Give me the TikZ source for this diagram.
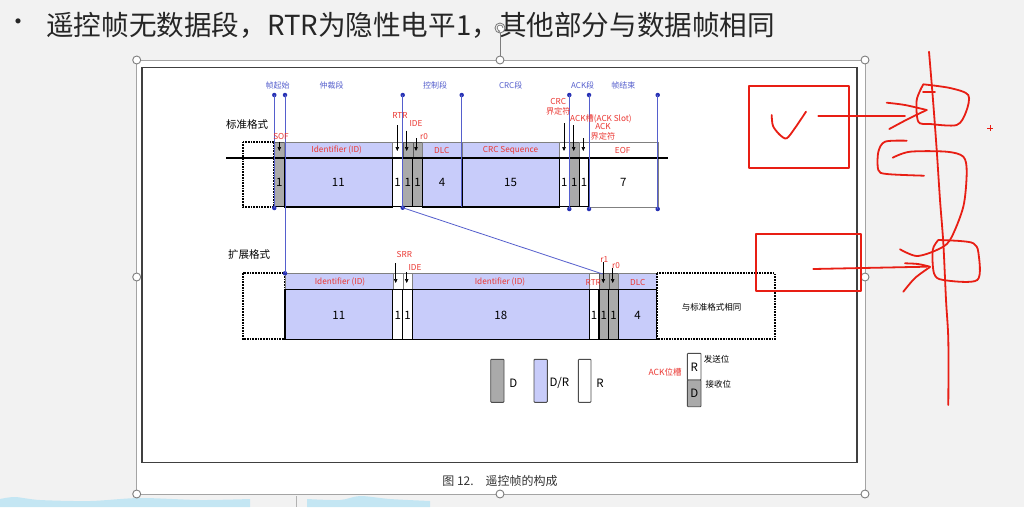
\documentclass[tikz,border=0pt]{standalone}
\usepackage{fontspec}
\setmainfont{Noto Sans CJK SC}
\usetikzlibrary{arrows.meta}

\definecolor{idblue}{RGB}{200,204,250}
\definecolor{bitgrey}{RGB}{170,170,170}
\definecolor{segblue}{RGB}{85,95,205}
\definecolor{dotblue}{RGB}{40,50,180}
\definecolor{lblred}{RGB}{235,55,50}
\definecolor{inkred}{RGB}{232,30,20}
\definecolor{slidegrey}{RGB}{242,242,242}
\definecolor{handlegrey}{RGB}{125,125,125}
\definecolor{blobblue}{RGB}{196,230,243}

\begin{document}
\begin{tikzpicture}[x=1pt,y=-1pt,
  greyStrip/.style={fill=bitgrey, draw=gray!70!black, line width=0.4pt},
  blueStrip/.style={fill=idblue, draw=gray, line width=0.4pt},
  whiteStrip/.style={fill=white, draw=gray, line width=0.4pt},
  greyBody/.style={fill=bitgrey, draw=black, line width=1.2pt},
  blueBody/.style={fill=idblue, draw=black, line width=1.6pt},
  whiteBody/.style={fill=white, draw=black, line width=1.2pt},
  voidBox/.style={draw=black, line width=1.7pt, densely dotted, fill=white},
  num/.style={font=\fontsize{11.5}{12}\selectfont, inner sep=0pt},
  fieldLbl/.style={text=lblred, font=\fontsize{8.2}{10}\selectfont, inner sep=0pt},
  segLbl/.style={text=segblue, font=\fontsize{8}{8.5}\selectfont, inner sep=0pt},
  rowLbl/.style={font=\fontsize{10.5}{11}\selectfont, inner sep=0pt},
  segLine/.style={draw=segblue, line width=0.8pt},
  segDot/.style={fill=dotblue, circle, inner sep=0pt, minimum size=4.5pt},
  bitArrow/.style={-{Triangle[length=4pt,width=3.5pt]}, line width=0.6pt},
  keyBox/.style={draw=black!70, line width=0.9pt, rounded corners=0.8pt},
  handle/.style={circle, draw=handlegrey, fill=white, line width=0.9pt, minimum size=8pt, inner sep=0pt},
  ink/.style={draw=inkred, line width=1.8pt, line cap=round, line join=round},
]
\useasboundingbox (0,0) rectangle (1024,507);
\fill[slidegrey] (0,0) rectangle (1024,507);
\fill[white] (136.7,60) rectangle (865,494);
% bottom of the slide
\fill[blobblue] plot[smooth] coordinates {(0,499) (15,497) (40,500) (90,501) (140,498) (200,500) (250,499)} -- (250,507) -- (0,507) -- cycle;
\fill[blobblue] plot[smooth] coordinates {(307,499) (340,500) (360,496) (390,499) (430,501)} -- (430,507) -- (307,507) -- cycle;
\draw[gray!60] (296,496) -- (296,507);

% title line
\node[font=\fontsize{24}{26}\selectfont, text=black!85, inner sep=0pt] (bullet) at (18,25) {•};
\node[anchor=west, font=\fontsize{27.6}{29}\selectfont, text=black!85, inner sep=0pt] (title) at (46,25) {遥控帧无数据段，RTR为隐性电平1，其他部分与数据帧相同};

% picture frame and handles
\draw[handlegrey!70, line width=0.8pt] (136.7,60) rectangle (865,494);
\draw[black!75, line width=1.5pt] (142,67.3) rectangle (857,462.5);
\foreach \px/\py/\n in {136.7/60/tl, 500/60/tm, 865/60/tr, 136.7/277/ml, 865/277/mr, 136.7/494/bl, 500/494/bm, 865/494/br}
  \node[handle] (h\n) at (\px,\py) {};
\node[handle, minimum size=10pt] (rot) at (500,28) {};
\draw[handlegrey, line width=0.8pt, -{Stealth[length=2.5pt]}] (503,28) arc[start angle=0, end angle=280, radius=3pt];
\draw[handlegrey, line width=0.8pt] (rot) -- (htm);
\node[font=\fontsize{12}{12}\selectfont, text=black!80] (caption) at (500,481) {图 12.\quad 遥控帧的构成};

% segment headings
\node[segLbl] (g1) at (277.7,85) {帧起始};
\node[segLbl] (g2) at (331.7,85) {仲裁段};
\node[segLbl] (g3) at (435,85) {控制段};
\node[segLbl] (g4) at (510.7,85) {CRC段};
\node[segLbl] (g5) at (582.7,85) {ACK段};
\node[segLbl] (g6) at (623.3,85) {帧结束};

% standard format
\node[rowLbl, anchor=west] (std) at (226,125) {标准格式};
\draw[voidBox] (242.7,141.7) rectangle (274.3,206.7);
\foreach \xa/\xb/\kind/\bits [count=\i] in {274.3/284.3/grey/1, 284.3/392.3/blue/11, 392.3/402.7/white/1,
    402.7/412.7/grey/1, 412.7/422.3/grey/1, 422.3/461.7/blue/4, 461.7/559.3/blue/15,
    559.3/569.3/white/1, 569.3/579.3/grey/1, 579.3/589/white/1}{
  \draw[\kind Strip] (\xa,141.7) rectangle (\xb,158.3);
  \draw[\kind Body] (\xa,158.3) rectangle (\xb,206.7);
  \node[num] (s\i) at ({(\xa+\xb)/2},182.5) {\bits};
}
\draw[whiteStrip] (589,141.7) rectangle (657.7,206.7);
\node[num] (s11) at (623.3,182.5) {7};
\draw[line width=2pt] (226,158.3) -- (668.3,158.3);
\node[fieldLbl] (f1) at (336.7,150) {Identifier (ID)};
\node[fieldLbl] (f2) at (441.7,150) {DLC};
\node[fieldLbl] (f3) at (510.5,150) {CRC Sequence};
\node[fieldLbl] (f4) at (622.7,150) {EOF};

% extended format
\node[rowLbl, anchor=west] (ext) at (228,255) {扩展格式};
\draw[voidBox] (242.7,273.3) rectangle (285,339.3);
\foreach \xa/\xb/\kind/\bits [count=\i] in {285/392.7/blue/11, 392.7/402.7/white/1, 402.7/412.3/white/1,
    412.3/589.3/blue/18, 589.3/599/white/1, 599/608.7/grey/1, 608.7/618.3/grey/1, 618.3/656.7/blue/4}{
  \draw[\kind Strip] (\xa,273.3) rectangle (\xb,289.3);
  \draw[\kind Body] (\xa,289.3) rectangle (\xb,339.3);
  \node[num] (e\i) at ({(\xa+\xb)/2},315) {\bits};
}
\draw[voidBox] (656.7,273.3) rectangle (775,339.3);
\node[font=\fontsize{8.5}{9}\selectfont, inner sep=0pt] (same) at (711.7,307.7) {与标准格式相同};
\node[fieldLbl] (f5) at (340,282.3) {Identifier (ID)};
\node[fieldLbl] (f6) at (500,282.3) {Identifier (ID)};
\node[fieldLbl] (f7) at (637.7,282.3) {DLC};

% segment borders
\foreach \x/\n in {274.3/a, 285/b, 402.7/c, 461.7/d, 569.3/e, 589/f, 657.7/g}
  \node[segDot] (t\n) at (\x,95) {};
\node[segDot] (ba) at (274.3,208) {};
\node[segDot] (bb) at (285,273.3) {};
\node[segDot] (bc) at (402.7,207.7) {};
\coordinate (bd) at (461.7,206.7);
\node[segDot] (be) at (569.3,209) {};
\node[segDot] (bf) at (589,209) {};
\node[segDot] (bg) at (657.7,209) {};
\coordinate (rtrX) at (602.7,274);
\foreach \n in {a,b,c,d,e,f,g}
  \draw[segLine] (t\n.center) -- (b\n.center);
\draw[segLine] (bc.center) -- (rtrX);

% bit labels and arrows
\node[fieldLbl] (sof) at (281,136) {SOF};
\node[fieldLbl] (rtr) at (400,115) {RTR};
\node[fieldLbl] (ide) at (416,123.3) {IDE};
\node[fieldLbl] (rz) at (424,136.7) {r0};
\node[fieldLbl, align=center] (crcd) at (558.3,106.5) {CRC\\界定符};
\node[fieldLbl, anchor=west] (acks) at (570,119) {ACK槽(ACK Slot)};
\node[fieldLbl, align=center] (ackd) at (603,132) {ACK\\界定符};
\node[fieldLbl] (srr) at (404.3,254.3) {SRR};
\node[fieldLbl] (ide2) at (415,267.3) {IDE};
\node[fieldLbl] (rone) at (604.3,259.3) {r1};
\node[fieldLbl] (rz2) at (616,266) {r0};
\node[fieldLbl] (rtr2) at (593.3,282.3) {RTR};
\foreach \x/\ya/\yb in {279.3/141.7/151, 397.3/125/151, 406.7/130.7/151, 416/138/151,
    564/123/151, 573.7/125/151, 583.3/138/151,
    395.7/263/283, 406.7/272/283, 603.3/262/283, 612.7/268/283}
  \draw[bitArrow] (\x,\ya) -- (\x,\yb);

% legend
\draw[keyBox, fill=bitgrey] (490.7,359.3) rectangle (504,402.3);
\node[num] (kd) at (513.3,383.3) {D};
\draw[keyBox, fill=idblue] (534,359.3) rectangle (547.3,402.3);
\node[num] (kdr) at (559.3,383.3) {D/R};
\draw[keyBox, fill=white] (578.3,359.3) rectangle (591,402.3);
\node[num] (kr) at (600,383.3) {R};
\node[fieldLbl, font=\fontsize{8.5}{9}\selectfont] (ackslot) at (665,372.3) {ACK位槽};
\draw[keyBox, fill=white] (687.3,353.3) rectangle (701,380);
\draw[keyBox, fill=bitgrey] (687.3,380) rectangle (701,406.7);
\node[num] (sr) at (694.2,367) {R};
\node[num] (sd) at (694.2,393.5) {D};
\node[font=\fontsize{8.5}{9}\selectfont, inner sep=0pt] (tx) at (716.7,359) {发送位};
\node[font=\fontsize{8.5}{9}\selectfont, inner sep=0pt] (rx) at (718.3,384.3) {接收位};

% red ink notes
\draw[ink] (749.3,85.7) rectangle (849.3,167.7);
\draw[ink] plot[smooth] coordinates {(771.7,115) (773,126) (780,135) (786.7,138.3) (795,128) (806,111.7)};
\draw[ink] (818.3,116) -- (905,116);
\draw[ink] plot[smooth] coordinates {(886.7,102.7) (905,105) (926.7,110)};
\draw[ink] plot[smooth] coordinates {(889.3,129) (908,119) (926.7,110)};
\draw[ink] (755.7,234) rectangle (860.7,290.7);
\draw[ink] (813.3,269) -- (926.7,266.7);
\draw[ink] plot[smooth] coordinates {(905,263.3) (918,264) (930,266.7)};
\draw[ink] plot[smooth] coordinates {(903.3,291.7) (915,278) (930,267)};
\draw[ink] plot[smooth] coordinates {(929,51.7) (933,100) (936.7,150) (940,200) (943.3,243) (946,300) (948.3,340) (948.3,405)};
\draw[ink] plot[smooth] coordinates {(923.3,84.3) (950,88) (968.3,95) (966,112) (956.7,125) (930,124) (918.3,121.7) (916.7,100) (923.3,84.3)};
\draw[ink] (923,92) -- (935,92);
\draw[ink] plot[smooth] coordinates {(906.7,140.7) (885,141.7) (878.3,152) (878.3,170) (886.7,174) (924,175.7)};
\draw[ink] plot[smooth] coordinates {(892.7,157.7) (910,151.7) (946.7,151.7) (963.3,156.7) (966.7,172) (963.3,206.7) (950,240) (936.7,250) (916.7,256) (900,249.3)};
\draw[ink] plot[smooth] coordinates {(938.3,240) (960,241) (973.3,243.3) (978.3,252) (977.3,280) (943.3,280) (934,273.3) (932.7,250) (938.3,240)};
\draw[inkred, line width=0.8pt] (987,128.3) -- (993,128.3) (990,125.3) -- (990,131.3);
\end{tikzpicture}
\end{document}
